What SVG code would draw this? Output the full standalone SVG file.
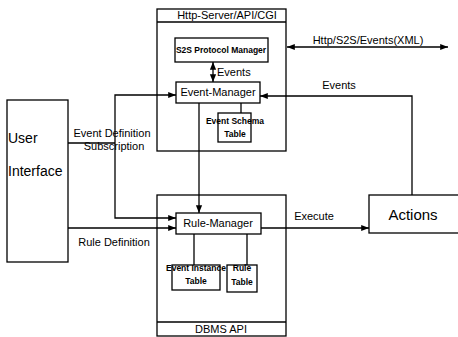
<svg xmlns="http://www.w3.org/2000/svg" width="458" height="337" viewBox="0 0 458 337">
<defs>
<marker id="ah" viewBox="0 0 10 10" refX="10" refY="5" markerWidth="6" markerHeight="6" orient="auto-start-reverse"><path d="M0,1 L10,5 L0,9 z" fill="#000"/></marker>
<style>
text{font-family:"Liberation Sans",Arial,sans-serif;fill:#000}
.box{fill:#fff;stroke:#000;stroke-width:1.3}
.ln{fill:none;stroke:#000;stroke-width:1.3}
.l11{font-size:11px}
.sm{font-size:8.5px;font-weight:bold}
</style>
</defs>
<rect width="458" height="337" fill="#fff"/>
<g id="http-server">
<rect class="box" x="157" y="9" width="129" height="142"/>
<line class="ln" x1="157" y1="22" x2="286" y2="22"/>
<text class="l11" x="227" y="19" text-anchor="middle">Http-Server/API/CGI</text>
</g>
<g id="dbms">
<rect class="box" x="157" y="195" width="129" height="141"/>
<line class="ln" x1="157" y1="322" x2="286" y2="322"/>
<text class="l11" x="221" y="333" text-anchor="middle">DBMS API</text>
</g>
<g id="s2s">
<rect class="box" x="175" y="38" width="93" height="24"/>
<text class="sm" x="221" y="53" text-anchor="middle">S2S Protocol Manager</text>
</g>
<g id="event-manager">
<rect class="box" x="176" y="82" width="84" height="21"/>
<text class="l11" x="218" y="96" text-anchor="middle">Event-Manager</text>
</g>
<g id="event-schema">
<rect class="box" x="218" y="113" width="33" height="29"/>
<text class="sm" x="235" y="124" text-anchor="middle">Event Schema</text>
<text class="sm" x="235" y="137" text-anchor="middle">Table</text>
</g>
<g id="rule-manager">
<rect class="box" x="176" y="213" width="85" height="21"/>
<text class="l11" x="218" y="227" text-anchor="middle">Rule-Manager</text>
</g>
<g id="event-instance">
<rect class="box" x="172" y="265" width="48" height="25"/>
<text class="sm" x="196" y="271" text-anchor="middle">Event Instance</text>
<text class="sm" x="196" y="284" text-anchor="middle">Table</text>
</g>
<g id="rule-table">
<rect class="box" x="227" y="265" width="30" height="27"/>
<text class="sm" x="242" y="271" text-anchor="middle">Rule</text>
<text class="sm" x="242" y="285" text-anchor="middle">Table</text>
</g>
<g id="user-interface">
<rect class="box" x="7" y="100" width="61" height="162"/>
<text x="8" y="143" font-size="14">User</text>
<text x="8" y="176" font-size="14">Interface</text>
</g>
<g id="actions">
<rect class="box" x="369" y="195" width="95" height="38"/>
<text x="413" y="220" font-size="15" text-anchor="middle">Actions</text>
</g>
<g id="connectors">
<line class="ln" x1="213" y1="62" x2="213" y2="82" marker-start="url(#ah)" marker-end="url(#ah)"/>
<text class="l11" x="217" y="76">Events</text>
<line class="ln" x1="287" y1="47" x2="448" y2="47" marker-start="url(#ah)" marker-end="url(#ah)"/>
<text class="l11" x="368" y="44" text-anchor="middle">Http/S2S/Events(XML)</text>
<polyline class="ln" points="412,195 412,96 260,96" marker-end="url(#ah)"/>
<text class="l11" x="339" y="89" text-anchor="middle">Events</text>
<line class="ln" x1="241" y1="103" x2="241" y2="113"/>
<line class="ln" x1="199" y1="103" x2="199" y2="213" marker-end="url(#ah)"/>
<line class="ln" x1="68" y1="143" x2="115" y2="143"/>
<polyline class="ln" points="176,95 115,95 115,218 176,218" marker-start="url(#ah)" marker-end="url(#ah)"/>
<text class="l11" x="112" y="137" text-anchor="middle">Event Definition</text>
<text class="l11" x="114" y="150" text-anchor="middle">Subscription</text>
<line class="ln" x1="68" y1="228" x2="176" y2="228" marker-end="url(#ah)"/>
<text class="l11" x="114" y="246" text-anchor="middle">Rule Definition</text>
<line class="ln" x1="261" y1="228" x2="369" y2="228" marker-end="url(#ah)"/>
<text class="l11" x="314" y="220" text-anchor="middle">Execute</text>
<line class="ln" x1="194" y1="234" x2="194" y2="265"/>
<line class="ln" x1="247" y1="234" x2="247" y2="265"/>
</g>
</svg>
